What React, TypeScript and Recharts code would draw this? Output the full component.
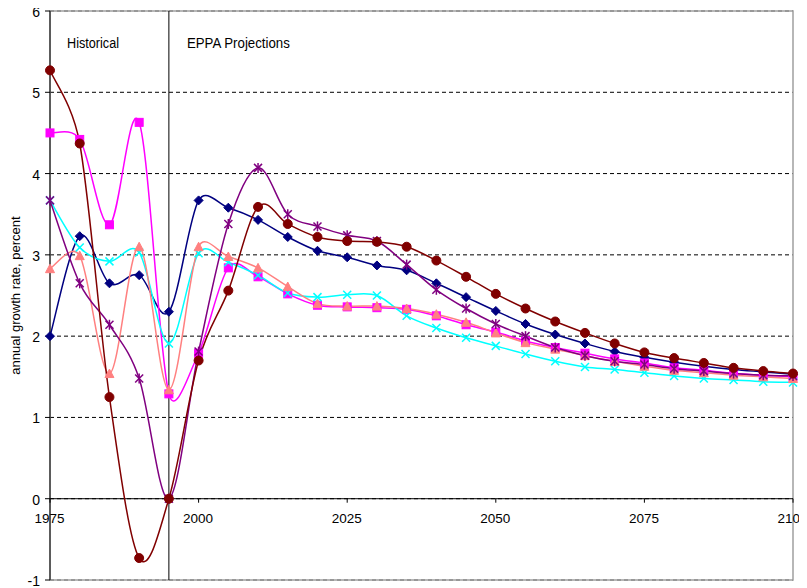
import React from 'react';
import {
  LineChart, Line, XAxis, YAxis, CartesianGrid, ReferenceLine,
  ReferenceArea, ReferenceDot, Label,
} from 'recharts';

const years = [1975, 1980, 1985, 1990, 1995, 2000, 2005, 2010, 2015, 2020, 2025, 2030, 2035,
  2040, 2045, 2050, 2055, 2060, 2065, 2070, 2075, 2080, 2085, 2090, 2095, 2100];

const navySeries = [2.0, 3.23, 2.65, 2.75, 2.30, 3.67, 3.58, 3.43, 3.22, 3.05, 2.97, 2.87, 2.81,
  2.65, 2.48, 2.31, 2.15, 2.02, 1.91, 1.81, 1.74, 1.68, 1.63, 1.59, 1.56, 1.53];
const magentaSeries = [4.5, 4.42, 3.37, 4.63, 1.29, 1.79, 2.84, 2.73, 2.52, 2.38, 2.36, 2.35, 2.33,
  2.25, 2.14, 2.05, 1.94, 1.86, 1.79, 1.72, 1.67, 1.61, 1.58, 1.54, 1.52, 1.50];
const cyanSeries = [3.67, 3.09, 2.92, 3.03, 1.91, 3.02, 2.91, 2.75, 2.53, 2.48, 2.51, 2.50, 2.25,
  2.10, 1.98, 1.88, 1.78, 1.69, 1.62, 1.59, 1.55, 1.51, 1.48, 1.46, 1.44, 1.43];
const salmonSeries = [2.83, 2.99, 1.54, 3.10, 1.34, 3.10, 2.98, 2.84, 2.61, 2.40, 2.37, 2.37, 2.34,
  2.27, 2.17, 2.04, 1.92, 1.84, 1.76, 1.69, 1.63, 1.58, 1.55, 1.52, 1.50, 1.48];
const purpleSeries = [3.67, 2.65, 2.14, 1.48, 0.0, 1.81, 3.38, 4.07, 3.50, 3.35, 3.24, 3.17, 2.88,
  2.57, 2.34, 2.15, 2.00, 1.86, 1.76, 1.69, 1.65, 1.60, 1.57, 1.54, 1.52, 1.51];
const darkRedSeries = [5.27, 4.37, 1.25, -0.73, 0.0, 1.70, 2.56, 3.59, 3.38, 3.22, 3.17, 3.16, 3.10,
  2.93, 2.73, 2.52, 2.34, 2.18, 2.04, 1.91, 1.80, 1.73, 1.67, 1.61, 1.57, 1.54];

const xTickYears = [1975, 2000, 2025, 2050, 2075, 2100];
const yTicks = [-1, 0, 1, 2, 3, 4, 5, 6];
const dividerYear = 1995;
const historicalText = 'Historical';
const projectionText = 'EPPA Projections';
const yAxisTitle = 'annual growth rate, percent';

const data = years.map((year, i) => ({
  year,
  navy: navySeries[i],
  magenta: magentaSeries[i],
  cyan: cyanSeries[i],
  salmon: salmonSeries[i],
  purple: purpleSeries[i],
  darkred: darkRedSeries[i],
}));

// Excel-like smoothing: Catmull-Rom Bezier (tension 1/6), control arms capped at half the segment
const excelSmooth: any = (context: any) => {
  let pts: number[][] = [];
  const dist = (a: number[], b: number[]) => Math.hypot(b[0] - a[0], b[1] - a[1]);
  return {
    areaStart() {},
    areaEnd() {},
    lineStart() { pts = []; },
    lineEnd() {
      const n = pts.length;
      if (n === 0) return;
      context.moveTo(pts[0][0], pts[0][1]);
      if (n === 1) return;
      const outCtrl: number[][] = [];
      const inCtrl: number[][] = [];
      for (let i = 0; i < n; i++) {
        const p = pts[i];
        const prev = pts[i - 1] || p;
        const next = pts[i + 1] || p;
        const tx = (next[0] - prev[0]) / 6;
        const ty = (next[1] - prev[1]) / 6;
        const len = Math.hypot(tx, ty);
        let fOut = 1;
        let fIn = 1;
        if (len > 0) {
          fOut = Math.min(len, dist(p, next) / 2) / len;
          fIn = Math.min(len, dist(prev, p) / 2) / len;
        }
        outCtrl.push([p[0] + tx * fOut, p[1] + ty * fOut]);
        inCtrl.push([p[0] - tx * fIn, p[1] - ty * fIn]);
      }
      for (let i = 0; i < n - 1; i++) {
        const c1 = outCtrl[i];
        const c2 = inCtrl[i + 1];
        const p2 = pts[i + 1];
        context.bezierCurveTo(c1[0], c1[1], c2[0], c2[1], p2[0], p2[1]);
      }
    },
    point(x: number, y: number) { pts.push([+x, +y]); },
  };
};

const makeDot = (kind: string, color: string) => (props: any) => {
  const { cx, cy, index } = props;
  const k = `d-${kind}-${index}`;
  if (cx == null || cy == null) return <g key={k} />;
  switch (kind) {
    case 'diamond':
      return <polygon key={k} points={`${cx},${cy - 4.5} ${cx + 4.5},${cy} ${cx},${cy + 4.5} ${cx - 4.5},${cy}`} fill={color} stroke={color} />;
    case 'square':
      return <rect key={k} x={cx - 4} y={cy - 4} width={8} height={8} fill={color} stroke={color} />;
    case 'triangle':
      return <polygon key={k} points={`${cx},${cy - 4.5} ${cx + 4.5},${cy + 4} ${cx - 4.5},${cy + 4}`} fill={color} stroke={color} />;
    case 'x':
      return (
        <g key={k} stroke={color} strokeWidth={1.5}>
          <line x1={cx - 4} y1={cy - 4} x2={cx + 4} y2={cy + 4} />
          <line x1={cx - 4} y1={cy + 4} x2={cx + 4} y2={cy - 4} />
        </g>
      );
    case 'star':
      return (
        <g key={k} stroke={color} strokeWidth={1.5}>
          <line x1={cx - 4} y1={cy - 4} x2={cx + 4} y2={cy + 4} />
          <line x1={cx - 4} y1={cy + 4} x2={cx + 4} y2={cy - 4} />
          <line x1={cx} y1={cy - 5} x2={cx} y2={cy + 5} />
        </g>
      );
    default:
      return <circle key={k} cx={cx} cy={cy} r={4.5} fill={color} stroke={color} />;
  }
};

const seriesDefs = [
  { key: 'navy', color: '#000080', marker: 'diamond' },
  { key: 'magenta', color: '#FF00FF', marker: 'square' },
  { key: 'cyan', color: '#00FFFF', marker: 'x' },
  { key: 'salmon', color: '#FF8080', marker: 'triangle' },
  { key: 'purple', color: '#800080', marker: 'star' },
  { key: 'darkred', color: '#800000', marker: 'circle' },
];

const xTickShape = (label: number) => (props: any) => {
  const { cx, cy } = props;
  return (
    <g>
      <line x1={cx} y1={cy} x2={cx} y2={cy + 4} stroke="#000" />
      <text x={cx - 0.5} y={cy + 24} textAnchor="middle" fontSize={13.5} fill="#000">{label}</text>
    </g>
  );
};

export default function App() {
  return (
    <div style={{ width: 799, height: 580, fontFamily: '"Liberation Sans", Arial, sans-serif' }}>
      <style>{'.recharts-surface{overflow:visible}'}</style>
      <LineChart
        width={799}
        height={580}
        data={data}
        margin={{ top: 3, right: 14, bottom: 8, left: 0 }}
        style={{ overflow: 'visible' }}
      >
        <XAxis dataKey="year" type="number" domain={[1975, 2100]} ticks={xTickYears} hide />
        <YAxis
          type="number"
          domain={[-1, 6]}
          ticks={yTicks}
          width={42}
          interval={0}
          axisLine={{ stroke: '#000' }}
          tickLine={{ stroke: '#000' }}
          tickSize={5}
          tickMargin={5}
          tick={{ fontSize: 14, fill: '#000', dy: 1 }}
        >
          <Label
            content={(p: any) => {
              const vb = p.viewBox || {};
              const x = (vb.x || 0) + 12;
              const y = (vb.y || 0) + (vb.height || 0) / 2;
              return (
                <text x={x} y={y} transform={`rotate(-90 ${x} ${y})`} textAnchor="middle" fontSize={13} fill="#000">
                  {yAxisTitle}
                </text>
              );
            }}
          />
        </YAxis>
        <ReferenceArea
          x1={1975} x2={2100} y1={-1} y2={6}
          fill="none" fillOpacity={0} stroke="#a0a0a0" strokeWidth={1.5}
          label={(p: any) => {
            const vb = p.viewBox || {};
            return (
              <text x={vb.x + 17} y={vb.y + 37} fontSize={14} fill="#000" textLength={52} lengthAdjust="spacingAndGlyphs">
                {historicalText}
              </text>
            );
          }}
        />
        <CartesianGrid vertical={false} stroke="#000" strokeDasharray="4 3" />
        <ReferenceLine y={0} stroke="#000" />
        <ReferenceLine
          x={dividerYear}
          stroke="#000"
          label={(p: any) => {
            const vb = p.viewBox || {};
            return (
              <text x={vb.x + 18} y={vb.y + 37} fontSize={14} fill="#000" textLength={103} lengthAdjust="spacingAndGlyphs">
                {projectionText}
              </text>
            );
          }}
        />
        {xTickYears.map((yr) => (
          <ReferenceDot key={`xt-${yr}`} x={yr} y={0} r={0} shape={xTickShape(yr)} />
        ))}
        {seriesDefs.map((s) => (
          <Line
            key={s.key}
            dataKey={s.key}
            type={excelSmooth}
            stroke={s.color}
            strokeWidth={1.5}
            dot={makeDot(s.marker, s.color)}
            activeDot={false}
            isAnimationActive={false}
          />
        ))}
      </LineChart>
    </div>
  );
}
